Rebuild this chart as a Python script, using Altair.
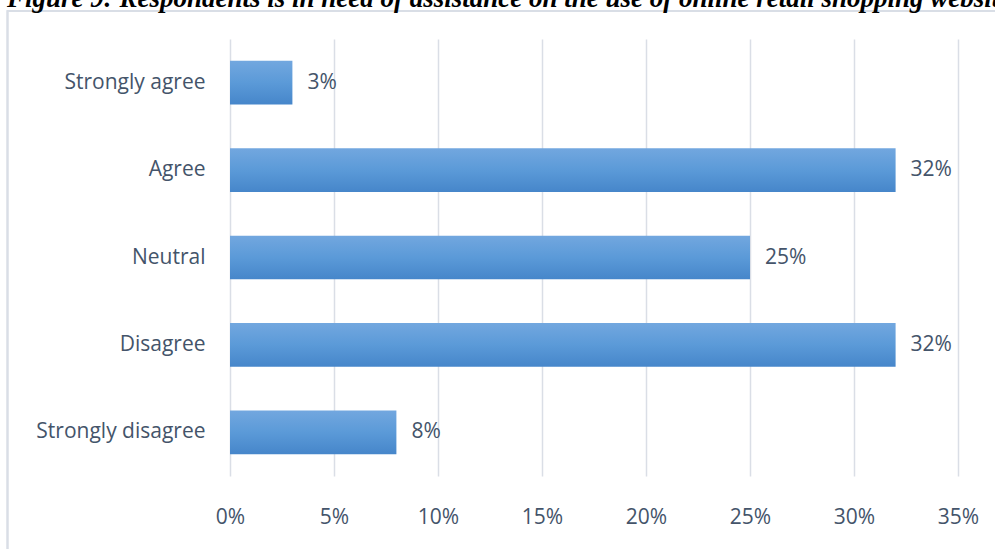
import altair as alt
import pandas as pd

categories = ["Strongly agree", "Agree", "Neutral", "Disagree", "Strongly disagree"]
values = [0.03, 0.32, 0.25, 0.32, 0.08]
labels = ["3%", "32%", "25%", "32%", "8%"]
tick_values = [0, 0.05, 0.10, 0.15, 0.20, 0.25, 0.30, 0.35]
title_text = "Figure 9: Respondents is in need of assistance on the use of online retail shopping website"

df = pd.DataFrame({"cat": categories, "val": values, "lab": labels})

FONT = "Open Sans"
FS = 21
TXT = "#44546A"

y_enc = alt.Y("cat:N", sort=categories, title=None,
              scale=alt.Scale(paddingInner=0.5, paddingOuter=0.25),
              axis=alt.Axis(domain=False, ticks=False, tickSize=0, labelPadding=25,
                            labelFont=FONT, labelFontSize=FS, labelColor=TXT, grid=False))
x_enc = alt.X("val:Q", title=None, scale=alt.Scale(domain=[0, 0.35], nice=False),
              axis=alt.Axis(values=tick_values, format=".0%", domain=False, ticks=False, tickSize=0,
                            labelPadding=47, labelBaseline="alphabetic", labelFlush=False,
                            labelFont=FONT, labelFontSize=FS, labelColor=TXT,
                            grid=True, gridColor="#DADEE6", gridWidth=1.5))

bars = alt.Chart(df).mark_bar(
    color=alt.Gradient(gradient="linear", x1=0, y1=0, x2=0, y2=1,
                       stops=[alt.GradientStop(offset=0, color="#72A7DF"),
                              alt.GradientStop(offset=0.5, color="#5B9AD8"),
                              alt.GradientStop(offset=1, color="#4686CA")])
).encode(y=y_enc, x=x_enc)

text = alt.Chart(df).mark_text(align="left", baseline="middle", dx=15, font=FONT,
                               fontSize=FS, color=TXT).encode(
    y=alt.Y("cat:N", sort=categories), x="val:Q", text="lab:N")

border = alt.Chart(df).mark_rect(fill=None, stroke="#D9DEE6", strokeWidth=1.5).encode(
    x=alt.value(-222.5), x2=alt.value(900), y=alt.value(-28), y2=alt.value(700))

title = alt.Chart(pd.DataFrame({"t": [title_text]})).mark_text(
    align="left", baseline="alphabetic", font="Liberation Serif", fontSize=27,
    fontWeight="bold", fontStyle="italic", color="#000000").encode(
    x=alt.value(-223), y=alt.value(-32.5), text="t:N")

chart = alt.layer(border, bars, text, title).properties(
    width=728, height=437,
    autosize=alt.AutoSizeParams(type="none"),
    padding={"left": 230, "top": 39, "right": 37, "bottom": 73},
).configure_view(stroke=None)

chart.save("out.html", embed_options={"renderer": "svg", "actions": False})
